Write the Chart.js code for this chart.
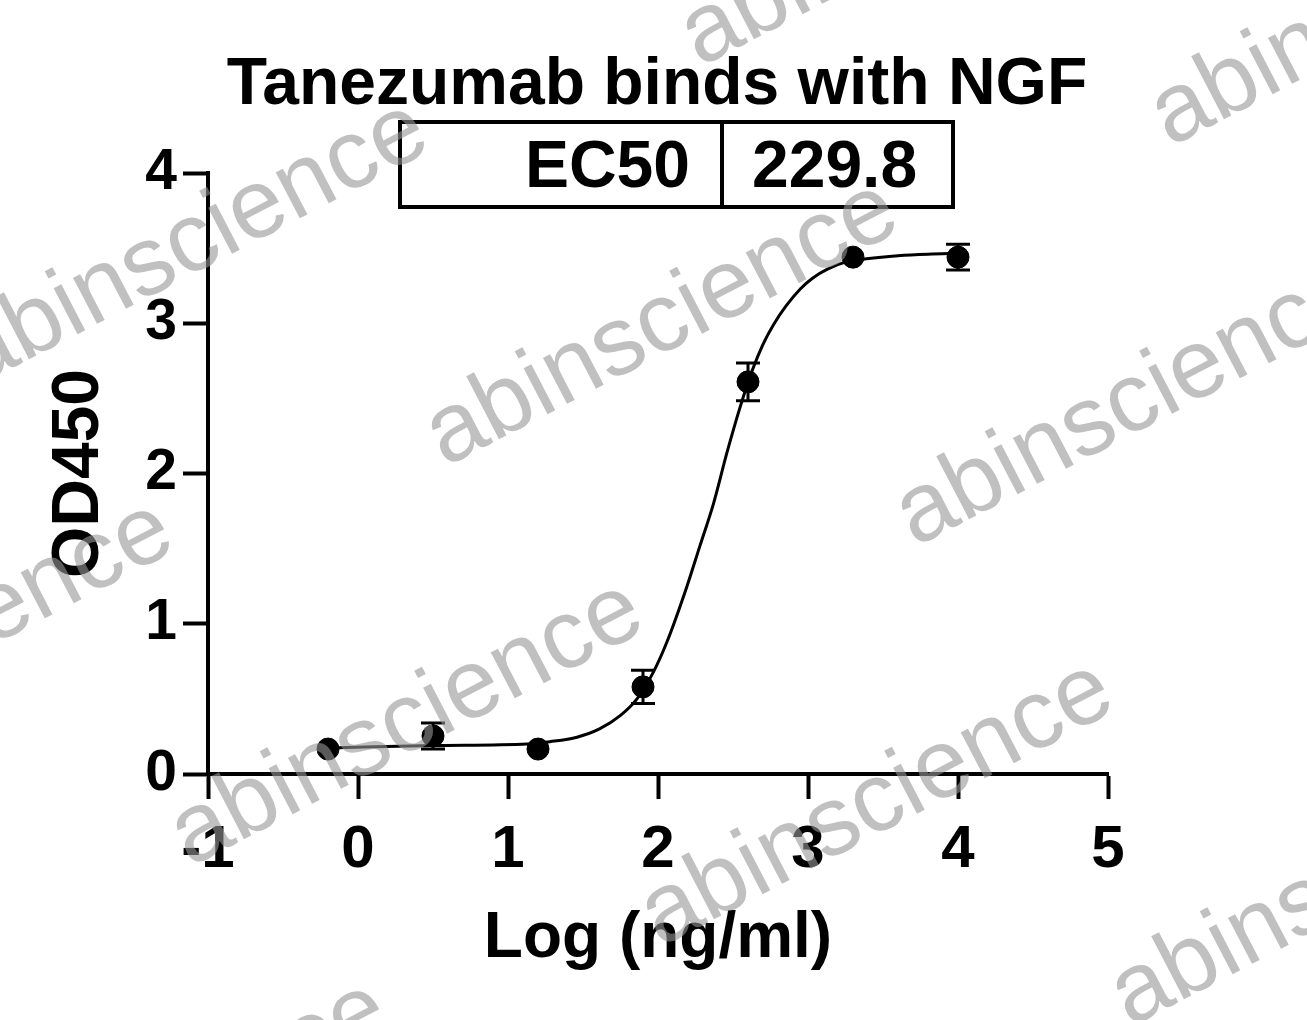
<!DOCTYPE html>
<html>
<head>
<meta charset="utf-8">
<script src="https://cdn.jsdelivr.net/npm/chart.js@4/dist/chart.umd.min.js"></script>
<style>
  html, body { margin: 0; padding: 0; background: #ffffff; }
  #wrap { width: 1307px; height: 1020px; position: relative; }
</style>
</head>
<body>
<div id="wrap"><canvas id="c" width="1307" height="1020"></canvas></div>
<script>
// ---- data ----
const chartTitle = "Tanezumab binds with NGF";
const ec50Label = "EC50";
const ec50Value = "229.8";
const xAxisTitle = "Log (ng/ml)";
const yAxisTitle = "OD450";
const xTickValues = [-1, 0, 1, 2, 3, 4, 5];
const yTickValues = [0, 1, 2, 3, 4];

// measured points (log concentration, mean OD450, error)
const logConc = [-0.2, 0.5, 1.2, 1.9, 2.6, 3.3, 4.0];
const meanOD  = [0.166, 0.253, 0.166, 0.58, 2.61, 3.44, 3.44];
const errOD   = [0, 0.087, 0, 0.11, 0.125, 0, 0.085];

// fitted curve
const curveX = [-0.19, 0.5, 1.13, 1.28, 1.46, 1.61, 1.75, 1.86, 1.97, 2.06, 2.19, 2.28, 2.37, 2.46, 2.55, 2.63, 2.70, 2.77, 2.85, 2.95, 3.03, 3.13, 3.26, 3.39, 3.6, 3.8, 4.01];
const curveY = [0.173, 0.19, 0.20, 0.215, 0.245, 0.30, 0.39, 0.50, 0.68, 0.88, 1.24, 1.52, 1.80, 2.14, 2.45, 2.69, 2.86, 2.99, 3.11, 3.23, 3.30, 3.36, 3.41, 3.43, 3.45, 3.46, 3.465];

const watermarkText = "abinscience";

const FONT = "'Liberation Sans', Arial, Helvetica, sans-serif";

const pointData = logConc.map((x, i) => ({ x: x, y: meanOD[i] }));
const curveData = curveX.map((x, i) => ({ x: x, y: curveY[i] }));

const errorBarPlugin = {
  id: 'errorBars',
  afterDatasetsDraw(chart) {
    const xs = chart.scales.x, ys = chart.scales.y;
    const ctx = chart.ctx;
    ctx.save();
    ctx.strokeStyle = '#000';
    ctx.lineWidth = 3;
    logConc.forEach((x, i) => {
      if (!errOD[i]) return;
      const px = xs.getPixelForValue(x);
      const top = ys.getPixelForValue(meanOD[i] + errOD[i]);
      const bot = ys.getPixelForValue(meanOD[i] - errOD[i]);
      const half = 12;
      ctx.beginPath();
      ctx.moveTo(px, top); ctx.lineTo(px, bot);
      ctx.moveTo(px - half, top); ctx.lineTo(px + half, top);
      ctx.moveTo(px - half, bot); ctx.lineTo(px + half, bot);
      ctx.stroke();
    });
    ctx.restore();
  }
};

const decorPlugin = {
  id: 'decor',
  afterDraw(chart) {
    const ctx = chart.ctx;
    const area = chart.chartArea;
    ctx.save();
    // title
    ctx.fillStyle = '#000';
    ctx.font = "bold 66px " + FONT;
    ctx.textAlign = 'center';
    ctx.textBaseline = 'alphabetic';
    ctx.fillText(chartTitle, 657, 104);

    // EC50 table
    const bx = 400, by = 122, bw = 553, bh = 85, div = 722;
    ctx.strokeStyle = '#000';
    ctx.lineWidth = 4;
    ctx.fillStyle = '#fff';
    ctx.fillRect(bx, by, bw, bh);
    ctx.strokeRect(bx, by, bw, bh);
    ctx.beginPath();
    ctx.moveTo(div, by); ctx.lineTo(div, by + bh);
    ctx.stroke();
    ctx.fillStyle = '#000';
    ctx.font = "bold 66px " + FONT;
    ctx.textBaseline = 'alphabetic';
    ctx.textAlign = 'right';
    ctx.fillText(ec50Label, 690, 187);
    ctx.textAlign = 'left';
    ctx.fillText(ec50Value, 752, 187);

    // watermarks
    ctx.fillStyle = 'rgba(150,150,150,0.6)';
    ctx.font = "98px " + FONT;
    ctx.textAlign = 'center';
    ctx.textBaseline = 'middle';
    for (let i = -2; i <= 3; i++) {
      for (let j = -2; j <= 3; j++) {
        const cx = 662 + 470 * i - 255 * j;
        const cy = 324 + 80 * i + 400 * j;
        ctx.save();
        ctx.translate(cx, cy);
        ctx.rotate(-27.5 * Math.PI / 180);
        ctx.fillText(watermarkText, 0, 0);
        ctx.restore();
      }
    }
    ctx.restore();
  }
};

new Chart(document.getElementById('c'), {
  type: 'scatter',
  data: {
    datasets: [
      {
        type: 'line',
        label: 'fit',
        data: curveData,
        borderColor: '#000',
        borderWidth: 3,
        pointRadius: 0,
        fill: false,
        cubicInterpolationMode: 'monotone',
        order: 2
      },
      {
        type: 'scatter',
        label: 'data',
        data: pointData,
        backgroundColor: '#000',
        borderColor: '#000',
        pointRadius: 11,
        pointHoverRadius: 11,
        order: 1
      }
    ]
  },
  options: {
    responsive: false,
    animation: false,
    events: [],
    layout: { padding: { top: 173, right: 199, bottom: 0, left: 0 } },
    plugins: {
      legend: { display: false },
      tooltip: { enabled: false },
      title: { display: false }
    },
    scales: {
      x: {
        type: 'linear',
        min: -1, max: 5,
        afterFit(scale) { scale.height = 246; },
        afterBuildTicks(scale) { scale.ticks = xTickValues.map(v => ({ value: v })); },
        border: { display: true, color: '#000', width: 4 },
        grid: { drawOnChartArea: false, drawTicks: true, tickLength: 25, tickWidth: 4, tickColor: '#000', color: '#000' },
        ticks: {
          color: '#000',
          padding: 15,
          font: { family: FONT, size: 60, weight: 'bold' },
          maxRotation: 0,
          callback: v => String(v)
        },
        title: {
          display: true,
          text: xAxisTitle,
          color: '#000',
          font: { family: FONT, size: 64, weight: 'bold' },
          padding: { top: 0, bottom: 42 }
        }
      },
      y: {
        type: 'linear',
        min: 0, max: 4,
        afterFit(scale) { scale.width = 208; },
        afterBuildTicks(scale) { scale.ticks = yTickValues.map(v => ({ value: v })); },
        border: { display: true, color: '#000', width: 4 },
        grid: { drawOnChartArea: false, drawTicks: true, tickLength: 25, tickWidth: 4, tickColor: '#000', color: '#000' },
        ticks: {
          color: '#000',
          padding: 6,
          font: { family: FONT, size: 57, weight: 'bold' },
          callback: v => String(v)
        },
        title: {
          display: true,
          text: yAxisTitle,
          color: '#000',
          font: { family: FONT, size: 66, weight: 'bold' },
          padding: { top: 40, bottom: 0 }
        }
      }
    }
  },
  plugins: [errorBarPlugin, decorPlugin]
});
</script>
</body>
</html>
